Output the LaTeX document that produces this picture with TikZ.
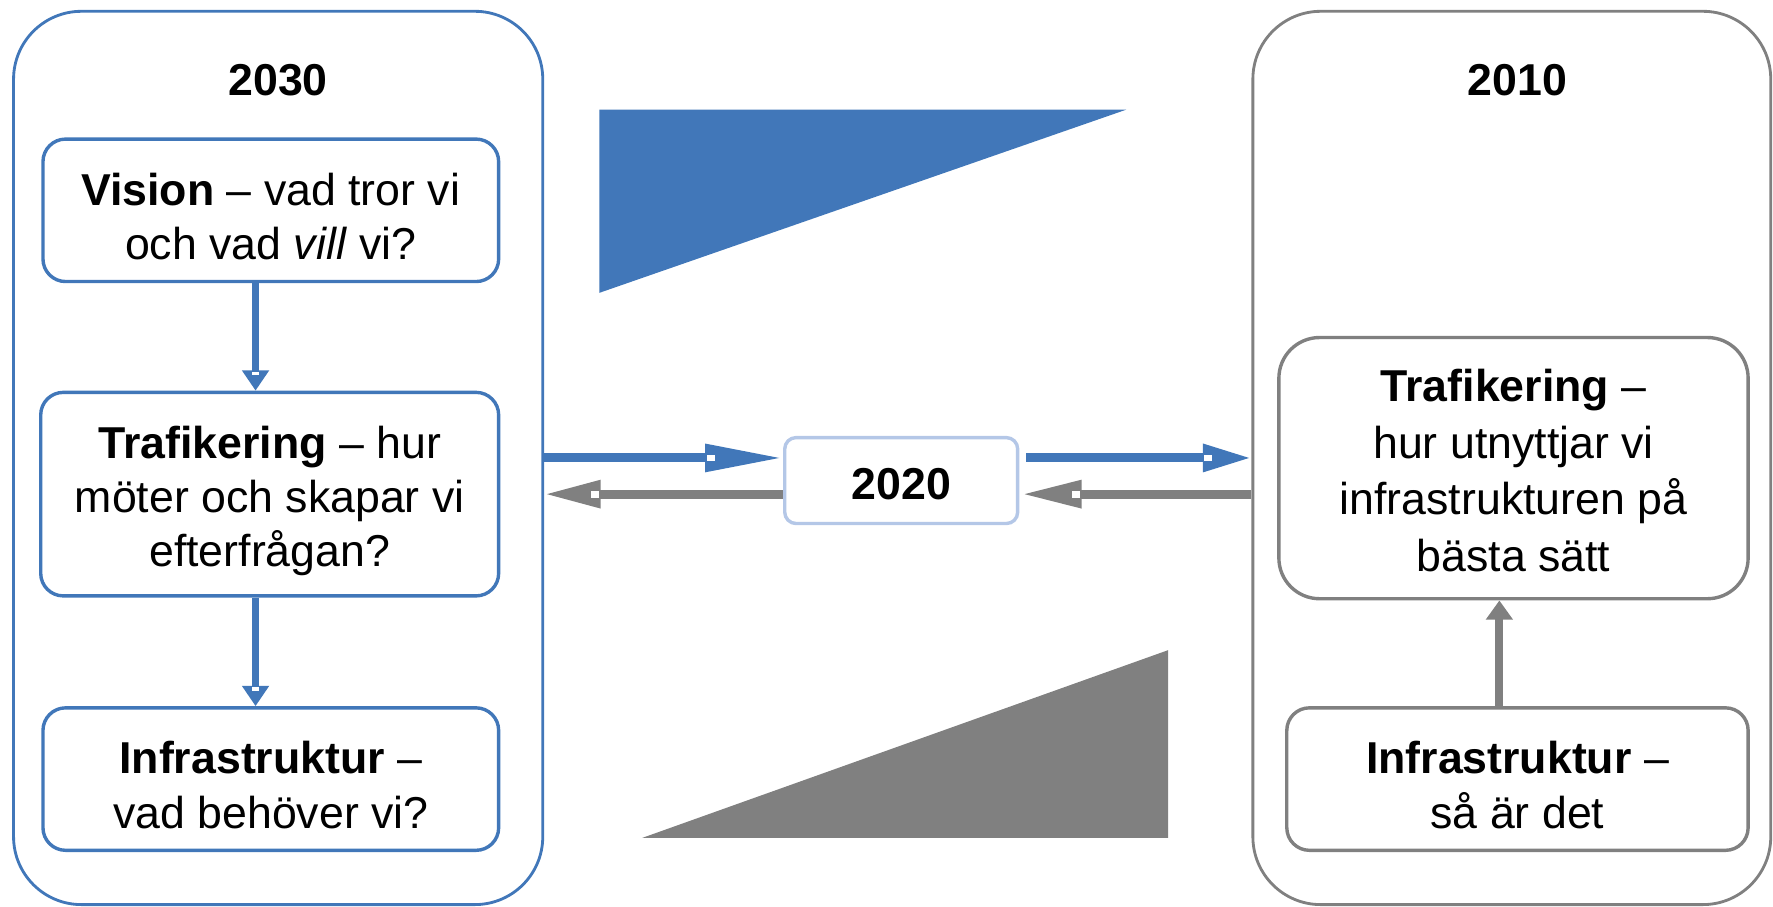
\documentclass[tikz,border=0pt]{standalone}
\usepackage{fontspec}
\setmainfont{Liberation Sans}
\usetikzlibrary{arrows.meta}
\definecolor{myblue}{RGB}{65,119,185}
\definecolor{mygray}{RGB}{128,128,128}
\definecolor{lightblue}{RGB}{180,199,231}
\newcommand{\tstrut}{\rule{0pt}{39pt}}
\begin{document}
\begin{tikzpicture}[x=1pt,y=-1pt,
  outerbox/.style={draw, line width=2.5pt, rounded corners=60pt, inner sep=0pt},
  innerbox/.style={draw, line width=3pt, rounded corners=20pt, fill=white, align=center, inner sep=0pt,
     font=\fontsize{39.5}{48}\selectfont},
  title/.style={font=\fontsize{39.5}{48}\selectfont\bfseries, inner sep=0pt},
  bconn/.style={draw=myblue, line width=8pt},
  gconn/.style={draw=mygray, line width=8pt},
  bvconn/.style={draw=myblue, line width=6.5pt},
  gvconn/.style={draw=mygray, line width=7pt},
  notch/.style={fill=white}
]
\useasboundingbox (0,0) rectangle (1568,802);

% triangles
\fill[myblue] (530,97) -- (996,97) -- (530,259) -- cycle;
\fill[mygray] (568,741) -- (1033,575) -- (1033,741) -- cycle;

% outer boxes
\node[outerbox, draw=myblue, minimum width=468pt, minimum height=790pt] (L) at (246,405) {};
\node[outerbox, draw=mygray, minimum width=458pt, minimum height=790pt] (R) at (1337,405) {};

\node[title] (t2030) at (246,71) {2030};
\node[title] (t2010) at (1342,71) {2010};

% left inner boxes
\node[innerbox, draw=myblue, minimum width=403pt, minimum height=126pt] (vis) at (239.5,186)
  {\tstrut\textbf{Vision} – vad tror vi\\och vad \textit{vill} vi?};
\node[innerbox, draw=myblue, minimum width=405pt, minimum height=180pt] (trafL) at (238.5,437)
  {\rule{0pt}{41pt}\textbf{Trafikering} – hur\\möter och skapar vi\\efterfrågan?};
\node[innerbox, draw=myblue, minimum width=403pt, minimum height=126pt] (infL) at (239.5,689)
  {\tstrut\textbf{Infrastruktur} –\\vad behöver vi?};

% right inner boxes
\node[innerbox, draw=mygray, rounded corners=36pt, minimum width=415pt, minimum height=231pt,
  font=\fontsize{39.5}{50}\selectfont] (trafR) at (1338.5,414)
  {\rule{0pt}{33pt}\textbf{Trafikering} –\\hur utnyttjar vi\\infrastrukturen på\\bästa sätt};
\node[innerbox, draw=mygray, minimum width=408pt, minimum height=126pt] (infR) at (1342,689)
  {\tstrut\textbf{Infrastruktur} –\\så är det};

% middle box
\node[innerbox, draw=lightblue, rounded corners=10pt, minimum width=206pt, minimum height=76pt,
  font=\fontsize{39.5}{48}\selectfont\bfseries] (mid) at (797,425) {\rule{0pt}{33pt}2020};

% vertical arrows
\draw[bvconn, -{Triangle[length=18pt,width=23pt]}] ([xshift=-13.5pt]vis.south) -- ([xshift=-12.5pt]trafL.north);
\draw[bvconn, -{Triangle[length=18pt,width=23pt]}] ([xshift=-12.5pt]trafL.south) -- ([xshift=-13.5pt]infL.north);
\draw[gvconn, -{Triangle[length=17pt,width=23pt]}] ([xshift=-16pt]infR.north) -- ([xshift=-12.5pt]trafR.south);

% horizontal arrows
\draw[bconn, -{Triangle[length=69pt,width=23pt]}] (L.east) -- ([yshift=20pt]mid.west);
\draw[gconn, -{Triangle[length=50pt,width=23pt]}] ([yshift=-12pt]mid.west) -- ([yshift=-32pt]L.east);
\draw[bconn, -{Triangle[length=43pt,width=23pt]}] ([yshift=20pt,xshift=6pt]mid.east) -- (R.west);
\draw[gconn, -{Triangle[length=53pt,width=23pt]}] ([yshift=-32pt]R.west) -- ([yshift=-12pt,xshift=2pt]mid.east);

% small white notches at arrowhead bases
\fill[notch] (625,402) rectangle (632,408);
\fill[notch] (1065,402) rectangle (1072,408);
\fill[notch] (523,434) rectangle (530,440);
\fill[notch] (948,434) rectangle (955,440);
\fill[notch] (223,329) rectangle (229,332);
\fill[notch] (223,608) rectangle (229,611);
\end{tikzpicture}
\end{document}
